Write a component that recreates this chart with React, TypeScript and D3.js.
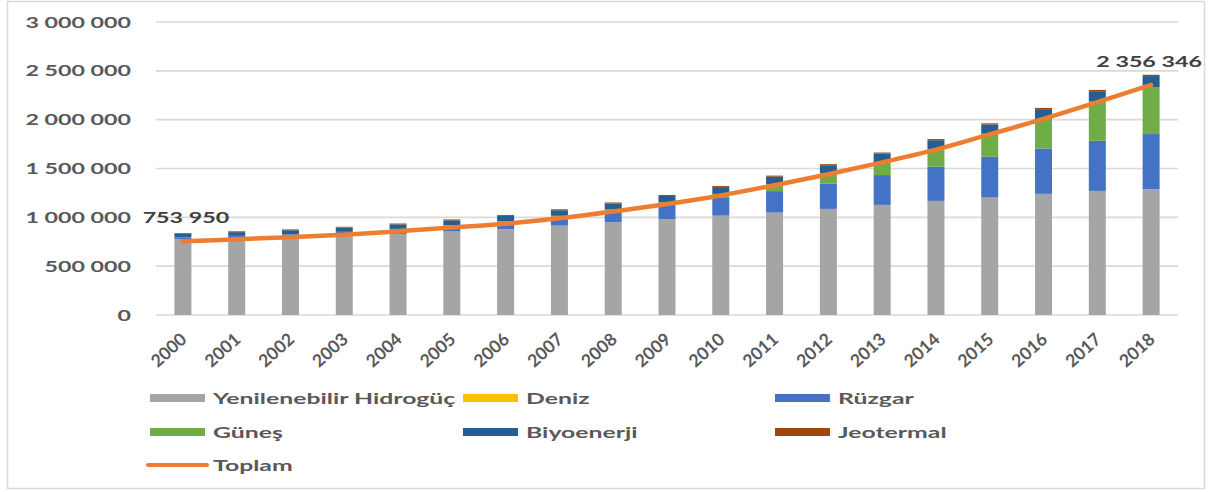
import React from "react";
import * as d3 from "d3";

const years = ["2000","2001","2002","2003","2004","2005","2006","2007","2008","2009","2010","2011","2012","2013","2014","2015","2016","2017","2018"];
const hidrogucValues = [776000, 785000, 795000, 810000, 830000, 855000, 880000, 915000, 950000, 980000, 1017000, 1048000, 1086000, 1127000, 1168000, 1202000, 1240000, 1270000, 1288000];
const denizValues = [300, 300, 300, 300, 300, 300, 300, 300, 300, 300, 300, 500, 500, 500, 500, 500, 500, 500, 500];
const ruzgarValues = [17000, 24000, 31000, 39000, 48000, 59000, 74000, 91000, 115000, 150000, 181000, 220000, 260000, 305000, 350000, 417000, 464000, 513000, 564000];
const gunesValues = [1000, 1200, 1600, 2300, 3500, 5200, 6600, 9200, 15700, 23500, 41500, 73000, 103000, 128000, 181000, 236000, 301000, 402000, 481000];
const biyoenerjiValues = [36000, 38000, 40000, 43000, 46000, 50000, 53000, 57000, 61000, 65000, 70000, 75000, 84000, 92000, 90000, 95000, 102000, 106000, 113000];
const jeotermalValues = [8300, 8400, 8500, 8800, 9000, 9100, 9300, 9600, 10000, 10300, 10400, 10700, 11000, 11300, 11900, 12200, 12600, 13100, 13300];
const toplamValues = [753950, 775000, 797000, 822000, 857000, 895000, 935000, 990000, 1059000, 1136000, 1224000, 1329000, 1441000, 1563000, 1693000, 1849000, 2008000, 2179000, 2356346];
const yTicks = [0, 500000, 1000000, 1500000, 2000000, 2500000, 3000000];

const seriesNames = ["Yenilenebilir Hidrogüç", "Deniz", "Rüzgar", "Güneş", "Biyoenerji", "Jeotermal"];
const seriesColors = ["#a5a5a5", "#ffc000", "#4472c4", "#70ad47", "#255e91", "#9e480e"];
const lineName = "Toplam";
const lineColor = "#ed7d31";

const W = 1210;
const H = 492;
const TX = 1.55;
const FONT = "Lato, 'Noto Sans', sans-serif";

const fmt = (v: number) => d3.format(",")(v).replace(/,/g, " ");

export default function App() {
  const x = d3.scaleBand<string>().domain(years).range([156, 1178]).paddingInner(0.684).paddingOuter(0.342);
  const y = d3.scaleLinear().domain([0, 3000000]).range([315, 22]);

  const keys = seriesNames;
  const rows = years.map((yr, i) => ({
    year: yr,
    [keys[0]]: hidrogucValues[i],
    [keys[1]]: denizValues[i],
    [keys[2]]: ruzgarValues[i],
    [keys[3]]: gunesValues[i],
    [keys[4]]: biyoenerjiValues[i],
    [keys[5]]: jeotermalValues[i],
  }));
  const stacked = d3.stack<any>().keys(keys)(rows);

  const cx = (yr: string) => (x(yr) as number) + x.bandwidth() / 2;
  const line = d3
    .line<number>()
    .x((_, i) => cx(years[i]))
    .y((d) => y(d))
    .curve(d3.curveCatmullRom.alpha(0.5));

  const legendCols = [150, 463, 775];
  const legendRows = [398, 432, 465];
  const legendItems = [
    ...seriesNames.map((n, i) => ({ name: n, color: seriesColors[i], type: "rect" })),
    { name: lineName, color: lineColor, type: "line" },
  ];

  const firstIdx = 0;
  const lastIdx = years.length - 1;

  return (
    <svg width={W} height={H} style={{ position: "absolute", left: 0, top: 0, background: "#fff" }}>
      <rect x={7.5} y={1.5} width={1197} height={487} fill="#fff" stroke="#d9d9d9" strokeWidth={1.5} />
      {yTicks.map((t) => (
        <g key={t}>
          <line x1={156} x2={1178} y1={y(t)} y2={y(t)} stroke="#d9d9d9" strokeWidth={1.6} />
          <text
            transform={`translate(131,${y(t) + 5.5}) scale(${TX},1)`}
            textAnchor="end"
            fontFamily={FONT}
            fontWeight={700}
            fontSize={15}
            fill="#595959"
          >
            {fmt(t)}
          </text>
        </g>
      ))}
      {stacked.map((s, si) => (
        <g key={s.key} fill={seriesColors[si]}>
          {s.map((d, i) => (
            <rect
              key={years[i]}
              x={x(years[i])}
              y={y(d[1])}
              width={x.bandwidth()}
              height={Math.max(0, y(d[0]) - y(d[1]))}
            />
          ))}
        </g>
      ))}
      <path d={line(toplamValues) || ""} fill="none" stroke={lineColor} strokeWidth={4.5} strokeLinecap="round" />
      {[firstIdx, lastIdx].map((i) => (
        <text
          key={i}
          transform={`translate(${cx(years[i]) + (i === 0 ? 3 : -2)},${y(toplamValues[i]) - 18}) scale(${TX},1)`}
          textAnchor="middle"
          fontFamily={FONT}
          fontWeight={700}
          fontSize={15}
          fill="#404040"
        >
          {fmt(toplamValues[i])}
        </text>
      ))}
      {years.map((yr) => (
        <text
          key={yr}
          transform={`translate(${cx(yr) + 5},341) rotate(-42)`}
          textAnchor="end"
          fontFamily={FONT}
          fontWeight={700}
          fontSize={17.5}
          fill="#595959"
        >
          {yr}
        </text>
      ))}
      {legendItems.map((it, i) => {
        const lx = legendCols[i % 3];
        const ly = legendRows[Math.floor(i / 3)];
        return (
          <g key={it.name}>
            {it.type === "rect" ? (
              <rect x={lx} y={ly - 4} width={55} height={8} fill={it.color} />
            ) : (
              <line x1={lx - 2} x2={lx + 57} y1={ly} y2={ly} stroke={it.color} strokeWidth={4} strokeLinecap="round" />
            )}
            <text
              transform={`translate(${lx + 63},${ly + 5.8}) scale(${TX},1)`}
              fontFamily={FONT}
              fontWeight={700}
              fontSize={16}
              fill="#595959"
            >
              {it.name}
            </text>
          </g>
        );
      })}
    </svg>
  );
}
